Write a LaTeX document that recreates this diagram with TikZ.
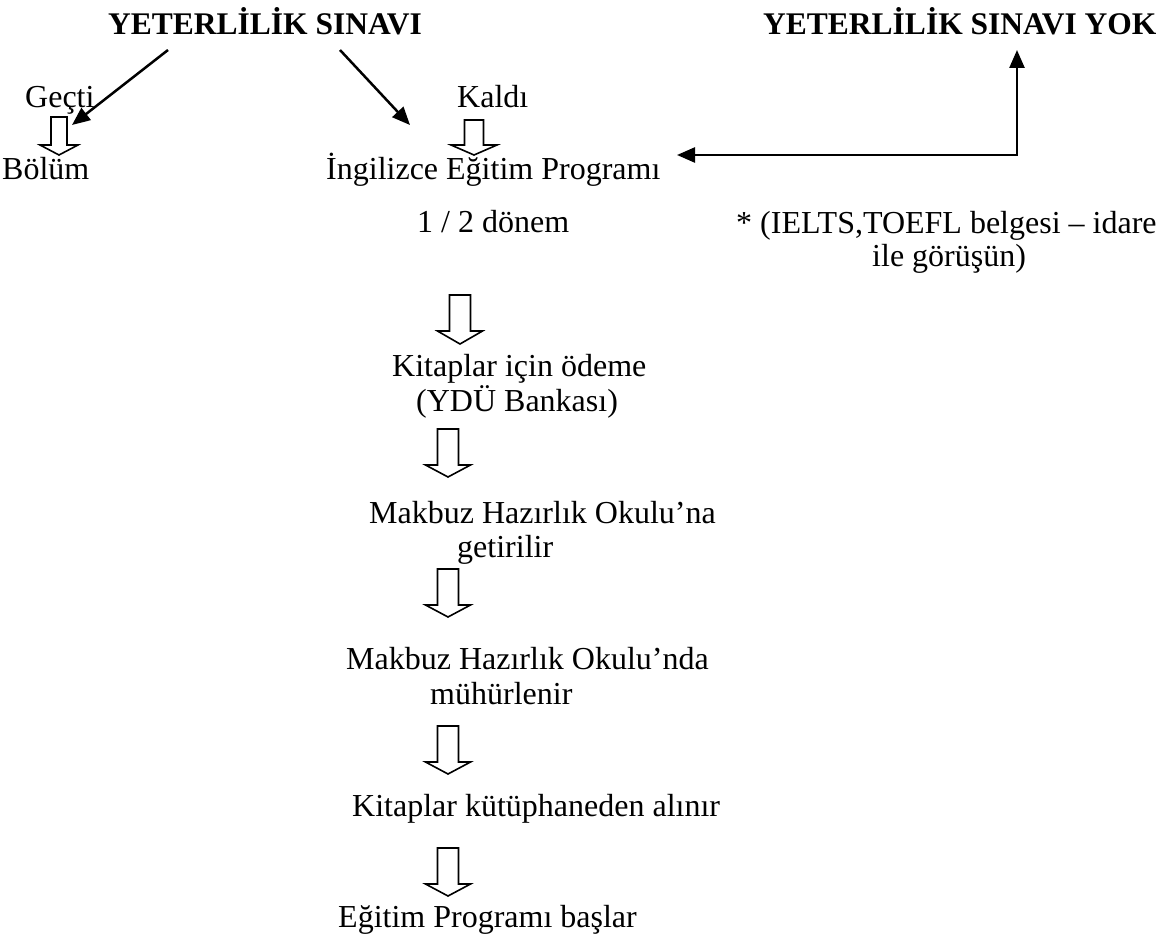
\documentclass[tikz,border=0pt]{standalone}
\usepackage{fontspec}
\setmainfont{Liberation Serif}
\usetikzlibrary{arrows.meta}
\tikzset{
  txt/.style={inner sep=0pt, anchor=base west, font=\fontsize{32}{35}\selectfont},
  ttl/.style={inner sep=0pt, anchor=base west, font=\fontsize{31.5}{35}\selectfont\bfseries},
  conn/.style={line width=2.5pt, -{Triangle[length=18pt,width=15pt]}},
  conn2/.style={line width=2.5pt, {Triangle[length=18pt,width=15pt]}-{Triangle[length=18pt,width=15pt]}},
  blockline/.style={line width=1.6pt, fill=white, line join=miter},
  pics/blockdown/.style n args={4}{code={
    \draw[blockline] (-#1,0) -- (-#1,#3) -- (-#2,#3) -- (0,#4) -- (#2,#3) -- (#1,#3) -- (#1,0) -- cycle;}}
}
\begin{document}
\begin{tikzpicture}[x=1pt,y=-1pt]
\useasboundingbox (0,0) rectangle (1170,934);
% titles
\node[ttl] (ys) at (108,35) {YETERLİLİK SINAVI};
\node[ttl] (yok) at (763,35) {YETERLİLİK SINAVI YOK};
% branch labels
\node[txt] (gecti) at (25,107) {Geçti};
\node[txt] (kaldi) at (457,107) {Kaldı};
\node[txt] (bolum) at (2,179) {Bölüm};
\node[txt] (ing) at (326,179) {İngilizce Eğitim Programı};
\node[txt] (donem) at (417,232) {1 / 2 dönem};
\node[txt] (ielts1) at (736,233) {* (IELTS,TOEFL belgesi – idare};
\node[txt] (ielts2) at (872,266) {ile görüşün)};
% steps
\node[txt] (kit1) at (392,376) {Kitaplar için ödeme};
\node[txt] (kit2) at (416,411) {(YDÜ Bankası)};
\node[txt] (mak1) at (369,523) {Makbuz Hazırlık Okulu’na};
\node[txt] (mak2) at (457,557) {getirilir};
\node[txt] (muh1) at (346,669) {Makbuz Hazırlık Okulu’nda};
\node[txt] (muh2) at (430,704) {mühürlenir};
\node[txt] (kut) at (352,816) {Kitaplar kütüphaneden alınır};
\node[txt] (bas) at (338,927) {Eğitim Programı başlar};
% connector end points
\coordinate (a1s) at (168,50);
\coordinate (a1e) at (72,125);
\coordinate (a2s) at (340,50);
\coordinate (a2e) at (410,125);
\coordinate (a3s) at (677,155);
\coordinate (a3e) at (1017,50);
\draw[conn] (a1s) -- (a1e);
\draw[conn] (a2s) -- (a2e);
\draw[conn2] (a3s) -| (a3e);
% block arrows
\pic at (59,117) {blockdown={8}{19}{28}{38}};
\pic at (474,120) {blockdown={9.5}{23}{25}{35}};
\pic at (460,295) {blockdown={10.5}{22.5}{36}{49}};
\pic at (448,429) {blockdown={10.5}{22.5}{36}{48}};
\pic at (448,569) {blockdown={10.5}{22.5}{36}{48}};
\pic at (448,726) {blockdown={10.5}{22.5}{36}{48}};
\pic at (448,848) {blockdown={10.5}{22.5}{36}{48}};
\end{tikzpicture}
\end{document}
